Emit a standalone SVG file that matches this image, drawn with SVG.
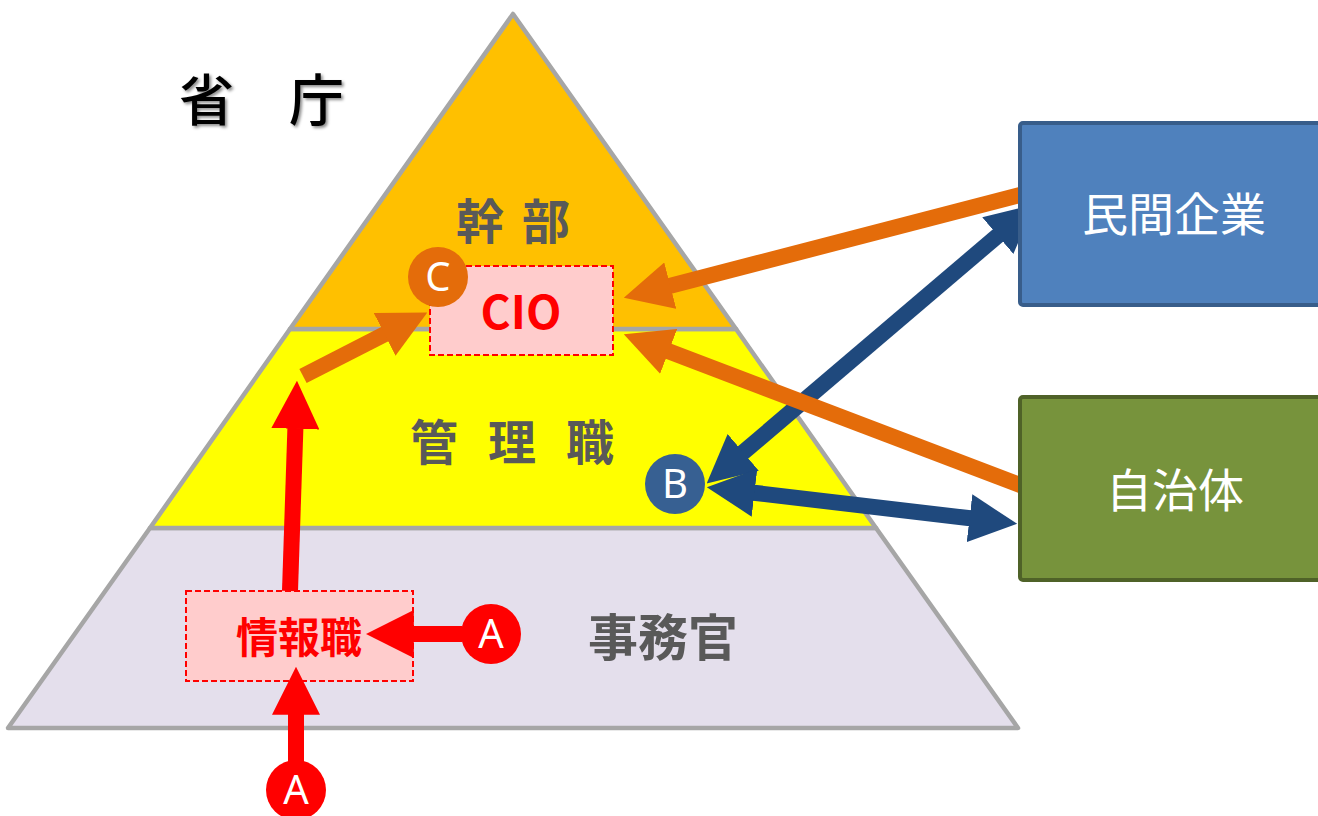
<svg xmlns="http://www.w3.org/2000/svg" width="1318" height="816" viewBox="0 0 1318 816">
<style>
.tier{stroke:#a6a6a6;stroke-width:4.5;stroke-linejoin:round}
.lbl{font-family:"Noto Sans CJK JP","Noto Sans",sans-serif;font-weight:bold;fill:#595959;font-size:48px}
.dash{fill:#ffcccc;stroke:#ff0000;stroke-width:2;stroke-dasharray:6 3}
.red{font-family:"Noto Sans CJK JP","Noto Sans",sans-serif;font-weight:bold;fill:#ff0000;text-anchor:middle}
.circ{font-family:"Noto Sans","Open Sans",sans-serif;fill:#fff;font-size:40px;text-anchor:middle}
.box{stroke-width:4}
.boxt{font-family:"Noto Sans CJK JP",sans-serif;fill:#fff;font-size:46px;text-anchor:middle}
.arr{stroke-width:16;fill:none}
</style>
<defs>
<filter id="sh" x="-20%" y="-20%" width="140%" height="140%"><feDropShadow dx="2" dy="2" stdDeviation="1.5" flood-color="#000" flood-opacity="0.45"/></filter>
<marker id="mr" viewBox="0 0 3 3" markerWidth="3" markerHeight="3" refX="0.05" refY="1.5" orient="auto-start-reverse" markerUnits="strokeWidth"><path d="M0,0 L3,1.5 L0,3 z" fill="#ff0000"/></marker>
<marker id="mo" viewBox="0 0 3 3" markerWidth="3" markerHeight="3" refX="0.05" refY="1.5" orient="auto-start-reverse" markerUnits="strokeWidth"><path d="M0,0 L3,1.5 L0,3 z" fill="#e46c0a"/></marker>
<marker id="mb" viewBox="0 0 3 3" markerWidth="3" markerHeight="3" refX="0.05" refY="1.5" orient="auto-start-reverse" markerUnits="strokeWidth"><path d="M0,0 L3,1.5 L0,3 z" fill="#1f497d"/></marker>
</defs>
<rect width="1318" height="816" fill="#fff"/>
<g id="title"><text x="179" y="120" font-family="'Noto Sans CJK JP',sans-serif" font-weight="500" font-size="55" fill="#000" filter="url(#sh)">省　庁</text></g>
<g id="pyramid">
<polygon class="tier" points="150,528 876,528 1018,728 8,728" fill="#e4dfec"/>
<polygon class="tier" points="290,329 736,329 876,528 150,528" fill="#ffff00"/>
<polygon class="tier" points="513,14 736,329 290,329" fill="#ffc000"/>
<text class="lbl"><tspan x="456" y="239">幹</tspan><tspan x="522" y="239">部</tspan></text>
<text class="lbl" font-size="50"><tspan x="410" y="460">管</tspan><tspan x="488" y="460">理</tspan><tspan x="566" y="460">職</tspan></text>
<text class="lbl" x="588" y="656" style="font-size:50px">事務官</text>
</g>
<g id="cio"><rect class="dash" x="430" y="266" width="183" height="89"/><text class="red" x="521" y="329" font-size="46" font-family="'Noto Sans',sans-serif">CIO</text></g>
<g id="joho"><rect class="dash" x="186" y="591" width="227" height="90"/><text class="red" x="299" y="653" font-size="42">情報職</text></g>
<g id="connectors">
<line class="arr" stroke="#ff0000" x1="296" y1="762" x2="296" y2="714" marker-end="url(#mr)"/>
<line class="arr" stroke="#ff0000" x1="462" y1="634" x2="413" y2="634" marker-end="url(#mr)"/>
<line class="arr" stroke="#ff0000" x1="290" y1="591" x2="295.4" y2="428" marker-end="url(#mr)"/>
<line class="arr" stroke="#e46c0a" x1="303" y1="376" x2="385.3" y2="333.9" marker-end="url(#mo)"/>
<line class="arr" stroke="#1f497d" x1="742.6" y1="452.9" x2="998.4" y2="235.1" marker-start="url(#mb)" marker-end="url(#mb)"/>
<line class="arr" stroke="#1f497d" x1="753.7" y1="492.7" x2="970.3" y2="518.3" marker-start="url(#mb)" marker-end="url(#mb)"/>
<line class="arr" stroke="#e46c0a" x1="1022" y1="194.5" x2="669.5" y2="285.9" marker-end="url(#mo)"/>
<line class="arr" stroke="#e46c0a" x1="1022" y1="485.8" x2="667.9" y2="351.1" marker-end="url(#mo)"/>
</g>
<g id="minkan"><rect class="box" x="1020" y="123" width="310" height="182" rx="3" fill="#4f81bd" stroke="#385d8a"/><text class="boxt" x="1174" y="231">民間企業</text></g>
<g id="jichitai"><rect class="box" x="1020" y="397" width="310" height="183" rx="3" fill="#77933c" stroke="#4f6228"/><text class="boxt" x="1175" y="507">自治体</text></g>
<g id="circleC"><circle cx="438" cy="277" r="30" fill="#e46c0a"/><text class="circ" x="438" y="291">C</text></g>
<g id="circleB"><circle cx="675" cy="484" r="30" fill="#376092"/><text class="circ" x="675" y="498">B</text></g>
<g id="circleA1"><circle cx="491" cy="634" r="30" fill="#ff0000"/><text class="circ" x="491" y="648">A</text></g>
<g id="circleA2"><circle cx="296" cy="790" r="30" fill="#ff0000"/><text class="circ" x="296" y="804">A</text></g>
</svg>
